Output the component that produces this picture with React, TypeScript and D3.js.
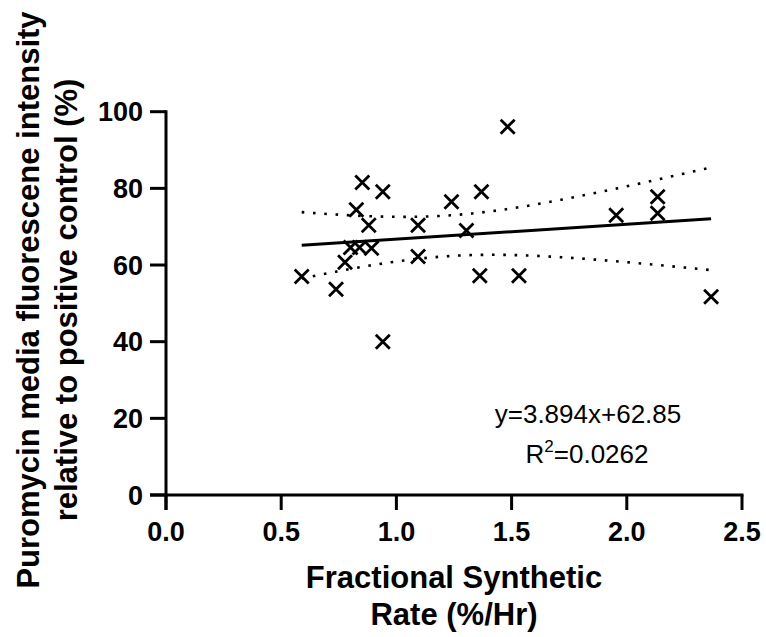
import React from "react";
import * as d3 from "d3";

// ---- data ----
const fsr: number[] = [
  0.589, 0.738, 0.777, 0.801, 0.84, 0.892, 0.826, 0.852, 0.88, 0.941, 0.941,
  1.094, 1.094, 1.239, 1.304, 1.362, 1.369, 1.483, 1.532, 1.954, 2.134, 2.134,
  2.366,
];
const puro: number[] = [
  57.0, 53.7, 60.7, 64.6, 64.6, 64.4, 74.4, 81.5, 70.4, 79.1, 40.0, 70.4, 62.2,
  76.5, 69.0, 57.2, 79.1, 96.1, 57.2, 73.0, 77.8, 73.5, 51.7,
];
const xTicks: number[] = [0, 0.5, 1.0, 1.5, 2.0, 2.5];
const yTicks: number[] = [0, 20, 40, 60, 80, 100];
const SLOPE = 3.894;
const INTERCEPT = 62.85;
const T_CRIT = 2.08; // 95%, df = 21
const eqText = "y=3.894x+62.85";
const r2Value = "=0.0262";
const xTitle = ["Fractional Synthetic", "Rate (%/Hr)"];
const yTitle = ["Puromycin media fluorescene intensity", "relative to positive control (%)"];

const W = 766;
const H = 637;
const FONT = "'Liberation Sans', Arial, sans-serif";

export default function App() {
  const x = d3.scaleLinear().domain([0, 2.5]).range([166, 742]);
  const y = d3.scaleLinear().domain([0, 100]).range([495, 111.7]);

  const n = fsr.length;
  const mx = d3.mean(fsr) as number;
  const sxx = d3.sum(fsr, (v) => (v - mx) ** 2);
  const sse = d3.sum(fsr.map((v, i) => (puro[i] - (INTERCEPT + SLOPE * v)) ** 2));
  const s = Math.sqrt(sse / (n - 2));
  const [xmin, xmax] = d3.extent(fsr) as [number, number];
  const xs = d3.range(0, 61).map((i) => xmin + ((xmax - xmin) * i) / 60);
  const half = (v: number) => T_CRIT * s * Math.sqrt(1 / n + (v - mx) ** 2 / sxx);
  const fit = (v: number) => INTERCEPT + SLOPE * v;
  const line = d3
    .line<number[]>()
    .x((d) => x(d[0]))
    .y((d) => y(d[1]))
    .curve(d3.curveLinear);
  const upper = line(xs.map((v) => [v, fit(v) + half(v)])) as string;
  const lower = line(xs.map((v) => [v, fit(v) - half(v)])) as string;
  const reg = line([[xmin, fit(xmin)], [xmax, fit(xmax)]]) as string;

  const m = 7;
  const axisW = 3;

  return (
    <svg
      width={W}
      height={H}
      style={{ position: "absolute", left: 0, top: 0, background: "#fff" }}
      fontFamily={FONT}
    >
      <rect width={W} height={H} fill="#fff" />
      {/* axes */}
      <line x1={x(0)} x2={x(0)} y1={y(100) - axisW / 2} y2={y(0) + 15} stroke="#000" strokeWidth={axisW} />
      <line x1={x(0) - 16} x2={x(2.5) + axisW / 2} y1={y(0)} y2={y(0)} stroke="#000" strokeWidth={axisW} />
      {yTicks.map((t) => (
        <g key={"y" + t}>
          <line x1={x(0) - 16} x2={x(0)} y1={y(t)} y2={y(t)} stroke="#000" strokeWidth={axisW} />
          <text
            x={x(0) - 23}
            y={y(t)}
            dy="0.36em"
            textAnchor="end"
            fontSize={27}
            fontWeight="bold"
            fill="#000"
          >
            {String(t)}
          </text>
        </g>
      ))}
      {xTicks.map((t) => (
        <g key={"x" + t}>
          <line x1={x(t)} x2={x(t)} y1={y(0)} y2={y(0) + 15} stroke="#000" strokeWidth={axisW} />
          <text x={x(t)} y={541} textAnchor="middle" fontSize={27} fontWeight="bold" fill="#000">
            {t.toFixed(1)}
          </text>
        </g>
      ))}
      {/* titles */}
      {xTitle.map((tx, i) => (
        <text
          key={tx}
          x={454}
          y={588 + i * 37}
          textAnchor="middle"
          fontSize={31}
          fontWeight="bold"
          fill="#000"
        >
          {tx}
        </text>
      ))}
      {yTitle.map((tx, i) => (
        <text
          key={tx}
          transform={`translate(${39 + i * 38},300) rotate(-90)`}
          textAnchor="middle"
          fontSize={31}
          fontWeight="bold"
          fill="#000"
        >
          {tx}
        </text>
      ))}
      {/* confidence band */}
      <path d={upper} fill="none" stroke="#000" strokeWidth={2.6} strokeDasharray="2.6 8.7" />
      <path d={lower} fill="none" stroke="#000" strokeWidth={2.6} strokeDasharray="2.6 8.7" />
      {/* regression */}
      <path d={reg} fill="none" stroke="#000" strokeWidth={3} />
      {/* points */}
      {fsr.map((v, i) => (
        <path
          key={i}
          d={`M${x(v) - m},${y(puro[i]) - m}L${x(v) + m},${y(puro[i]) + m}M${x(v) - m},${y(puro[i]) + m}L${x(v) + m},${y(puro[i]) - m}`}
          stroke="#000"
          strokeWidth={2.8}
          fill="none"
        />
      ))}
      {/* annotation */}
      <text x={588} y={423} textAnchor="middle" fontSize={26} fill="#000">
        {eqText}
      </text>
      <text x={587} y={463} textAnchor="middle" fontSize={26} fill="#000">
        R<tspan dy={-11} fontSize={17}>2</tspan>
        <tspan dy={11}>{r2Value}</tspan>
      </text>
    </svg>
  );
}
